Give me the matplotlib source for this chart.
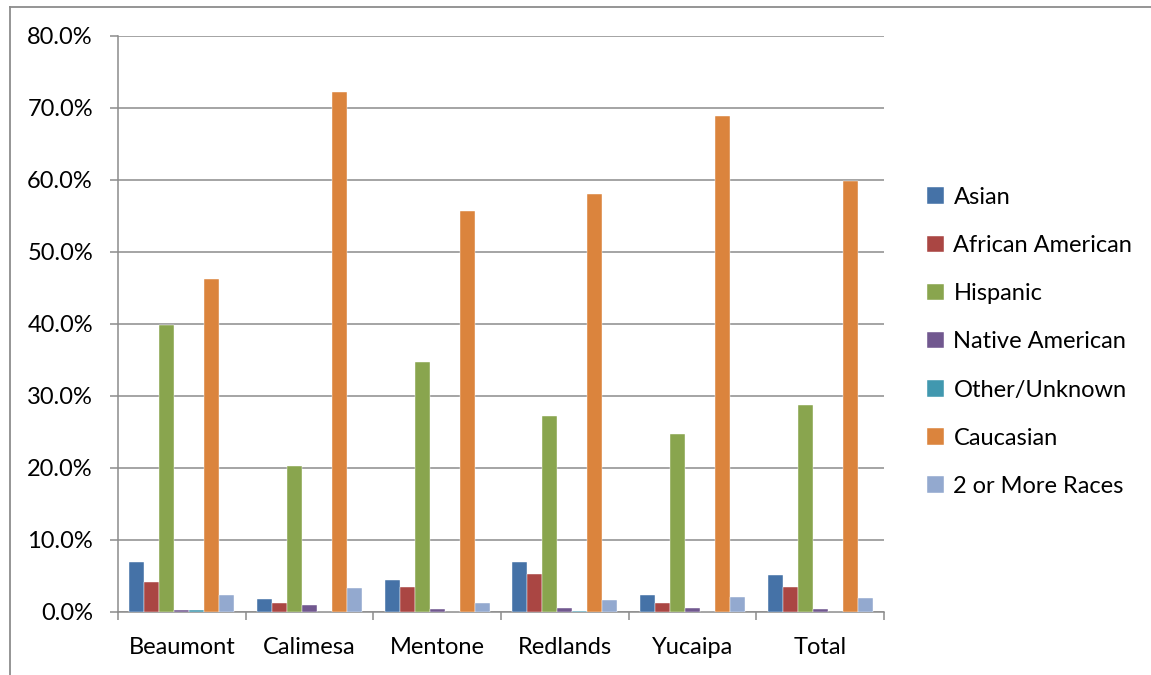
import numpy as np
import matplotlib
matplotlib.use("Agg")
from matplotlib import pyplot as plt
from matplotlib.lines import Line2D

plt.rcParams['font.family'] = ['Lato', 'DejaVu Sans']

cities = ['Beaumont', 'Calimesa', 'Mentone', 'Redlands', 'Yucaipa', 'Total']
groups = ['Asian', 'African American', 'Hispanic', 'Native American',
          'Other/Unknown', 'Caucasian', '2 or More Races']

asian = [7.0, 1.8, 4.4, 7.0, 2.3, 5.2]
african_american = [4.1, 1.25, 3.5, 5.3, 1.25, 3.5]
hispanic = [39.9, 20.3, 34.7, 27.2, 24.7, 28.7]
native_american = [0.3, 1.0, 0.4, 0.55, 0.5, 0.45]
other_unknown = [0.3, 0.0, 0.0, 0.1, 0.0, 0.0]
caucasian = [46.2, 72.2, 55.7, 58.0, 68.9, 59.9]
two_or_more = [2.3, 3.3, 1.25, 1.7, 2.1, 2.0]

series = [asian, african_american, hispanic, native_american,
          other_unknown, caucasian, two_or_more]
colors = ['#4572A7', '#AA4643', '#89A54E', '#71588F',
          '#4198AF', '#DB843D', '#93A9CF']

fig = plt.figure(figsize=(11.51, 6.75), dpi=100)
ax = fig.add_axes([118 / 1151, 63 / 675, (884 - 118) / 1151, (612 - 36) / 675])

x = np.arange(len(cities))
n = len(series)
width = 1 / (n + 1.5)
for i, (vals, col, name) in enumerate(zip(series, colors, groups)):
    offs = (i - (n - 1) / 2) * width
    ax.bar(x + offs, vals, width, color=col, label=name, zorder=3,
           edgecolor='white', linewidth=0.3)

ax.set_xlim(-0.5, len(cities) - 0.5)
ax.set_ylim(0, 80)
ax.set_yticks(np.arange(0, 81, 10))
ax.set_yticklabels([f'{v:.1f}%' for v in np.arange(0, 81, 10)])
ax.yaxis.grid(True, color='#8c8c8c', linewidth=1.1, zorder=0)

ax.set_xticks(x)
ax.set_xticklabels(cities)
ax.set_xticks(np.arange(-0.5, len(cities), 1), minor=True)
ax.tick_params(axis='x', which='major', length=0, pad=18, labelsize=17)
ax.tick_params(axis='x', which='minor', length=6, width=1.1, color='#8c8c8c')
ax.tick_params(axis='y', length=6, width=1.1, color='#8c8c8c', pad=12, labelsize=17)

for s in ['top', 'right']:
    ax.spines[s].set_visible(False)
for s in ['left', 'bottom']:
    ax.spines[s].set_color('#8c8c8c')
    ax.spines[s].set_linewidth(1.1)

ax.legend(loc='center left', bbox_to_anchor=(1.029, 0.469), frameon=False,
          fontsize=17, handlelength=0.7, handleheight=0.7, handletextpad=0.4,
          labelspacing=1.15)

# chart area border (only top and left edges are visible)
fig.add_artist(Line2D([10 / 1151, 10 / 1151], [0, 1 - 7 / 675],
                      transform=fig.transFigure, color='#8c8c8c', lw=1.3))
fig.add_artist(Line2D([10 / 1151, 1], [1 - 7 / 675, 1 - 7 / 675],
                      transform=fig.transFigure, color='#8c8c8c', lw=1.3))

fig.savefig('out.png', dpi=100, facecolor='white')
